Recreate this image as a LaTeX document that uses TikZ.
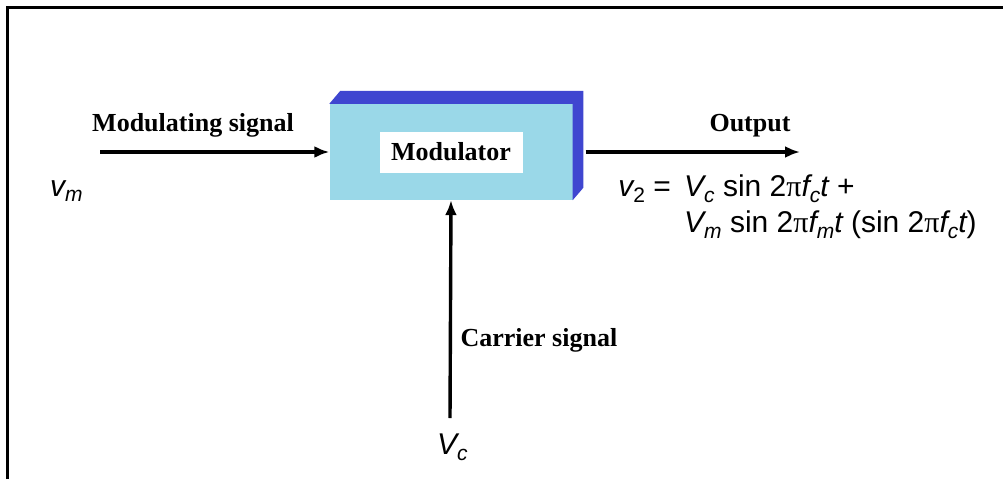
\documentclass[tikz,border=0pt]{standalone}
\usepackage{fontspec}
\setmainfont{Liberation Serif}
\newfontfamily\eqfont{Liberation Sans}
\usetikzlibrary{arrows.meta,positioning}
\definecolor{facecol}{HTML}{9AD8E8}
\definecolor{sidecol}{HTML}{3F46D0}
\newcommand{\sbs}[2][-6pt]{\raisebox{#1}{\fontsize{21}{21}\selectfont #2}}

\begin{document}
\begin{tikzpicture}[x=1pt,y=-1pt,>={Latex[length=15pt,width=12pt]},every node/.style={font=\fontsize{26}{30}\selectfont\bfseries}]
  \tikzset{sig/.style={->,line width=3.4pt},
    eq/.style={font=\fontsize{30}{34}\selectfont\eqfont,inner sep=0pt},
    front/.style={fill=facecol,minimum width=243pt,minimum height=96pt,inner sep=0pt}}
  \useasboundingbox (0,0) rectangle (1003,479);
  \draw[line width=3pt] (7,479) -- (7,7) -- (1003,7);
  % block
  \node[front] (mod) at (451,152) {};
  \fill[sidecol] (mod.north west) -- ++(11,-13) -- ++(243,0) -- ++(0,97) -- (mod.south east) -- (mod.north east) -- cycle;
  \node[fill=white,minimum width=143pt,minimum height=41pt,inner sep=0pt] (lbl) at (mod.center) {Modulator};
  % signals
  \coordinate (vin) at (100,152);
  \coordinate (oend) at (800,152);
  \coordinate (cin) at (450,418);
  \draw[sig] (vin) -- (mod.west);
  \draw[sig] ([xshift=13pt]mod.east) -- (oend);
  \draw[sig] (cin) -- (mod.south);
  \node (msig) at (193,125) {Modulating signal};
  \node (osig) at (750,126) {Output};
  \node[anchor=west] (csig) at (457,340) {Carrier signal};
  \node[eq,anchor=base west] (vm) at (50,196) {\itshape v\sbs[-5pt]{m}};
  \node[eq,anchor=base west] (vc) at (437,454) {\itshape V\sbs{c}};
  \node[eq,anchor=base east] (eqa0) at (671,196) {\itshape v\sbs[-6pt]{\upshape 2}\upshape\ =};
  \node[eq,anchor=base west] (eqa) at (684,196) {\itshape V\sbs{c}\upshape\ sin 2{\rmfamily π}\itshape f\sbs{c}t\upshape\ +};
  \node[eq,anchor=base west] (eqb) at (684,232) {\itshape V\sbs{m}\upshape\ sin 2{\rmfamily π}\itshape f\sbs{m}t\upshape\ (sin 2{\rmfamily π}\itshape f\sbs{c}t\upshape)};
\end{tikzpicture}
\end{document}
